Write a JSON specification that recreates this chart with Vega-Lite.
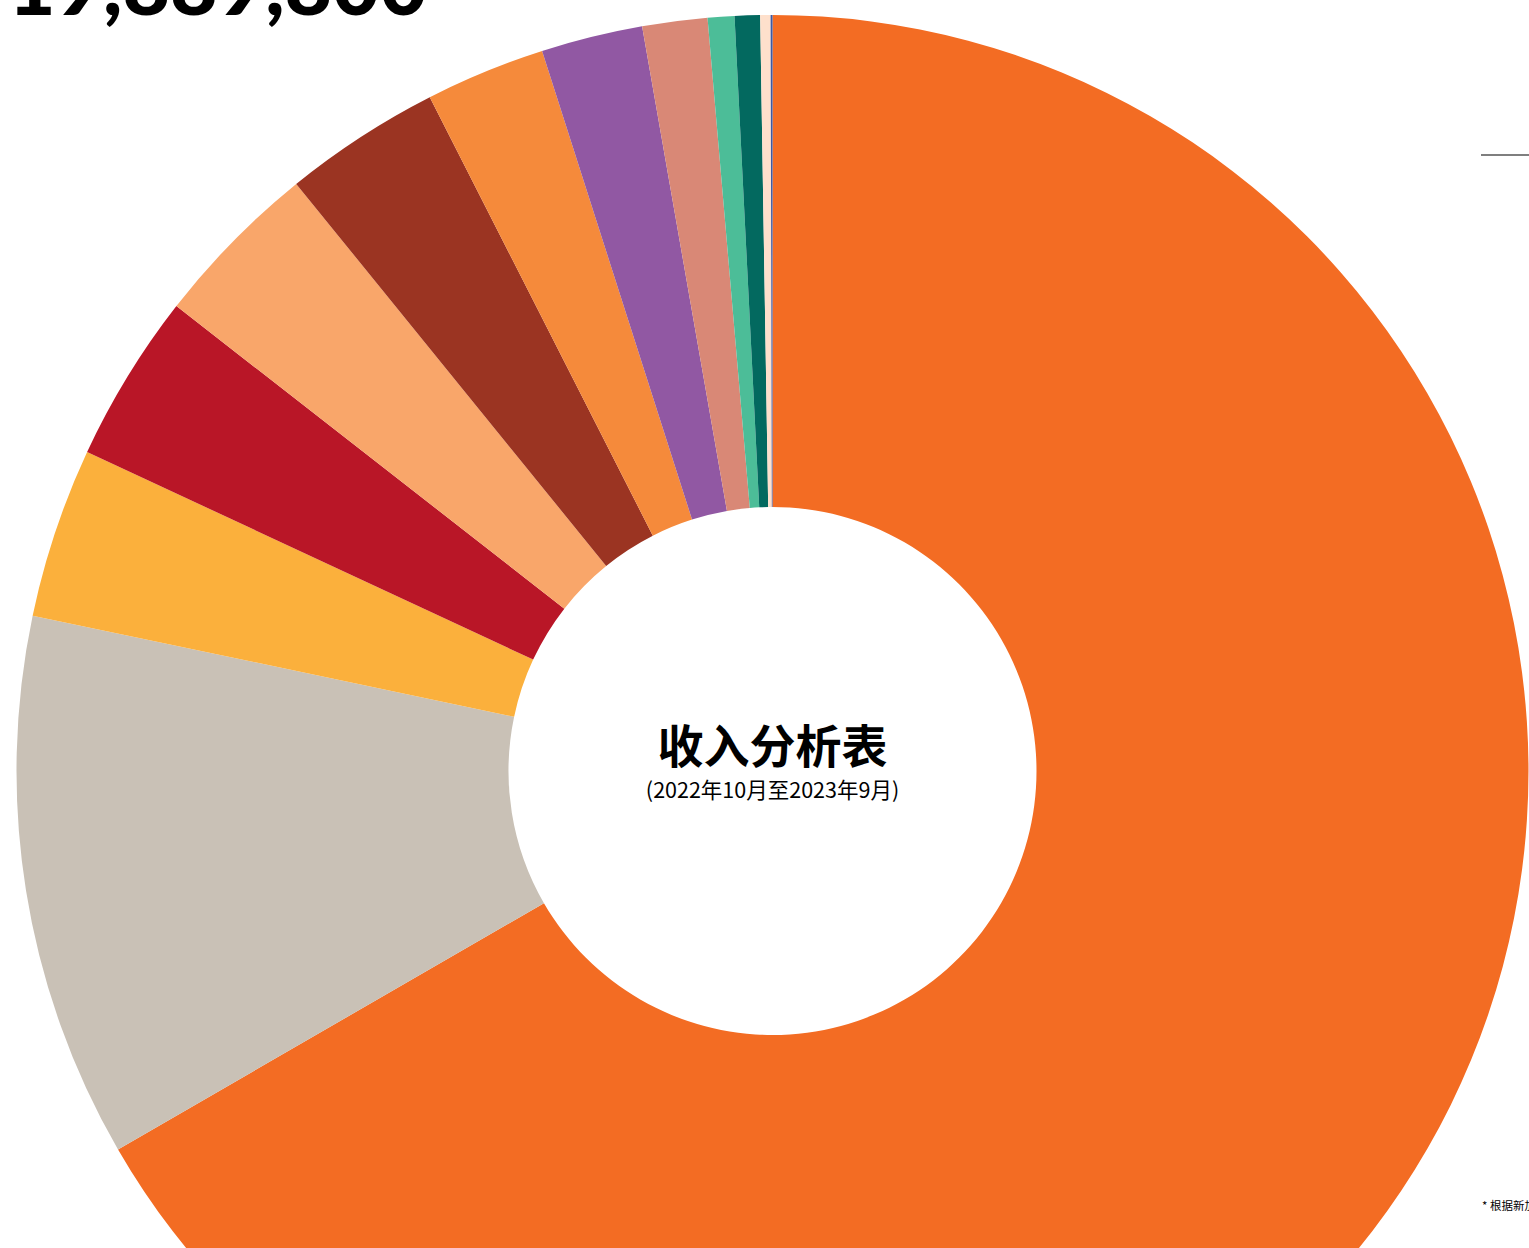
{
  "$schema": "https://vega.github.io/schema/vega-lite/v6.json",
  "width": 1545,
  "height": 1542,
  "autosize": {"type": "none"},
  "padding": 0,
  "background": "white",
  "config": {"view": {"stroke": null}},
  "datasets": {
    "income": [
      {"category": "政府拨款", "share": 66.67},
      {"category": "课程收入", "share": 11.64},
      {"category": "捐款", "share": 3.64},
      {"category": "活动收入", "share": 3.61},
      {"category": "会员费", "share": 3.61},
      {"category": "租金收入", "share": 3.36},
      {"category": "服务收入", "share": 2.56},
      {"category": "赞助", "share": 2.17},
      {"category": "利息收入", "share": 1.39},
      {"category": "销售收入", "share": 0.57},
      {"category": "基金收入", "share": 0.54},
      {"category": "其他收入", "share": 0.22},
      {"category": "杂项收入", "share": 0.04}
    ],
    "center": [
      {"line": "title", "label": "收入分析表"},
      {"line": "sub", "label": "(2022年10月至2023年9月)"}
    ],
    "notes": [
      {"note": "* 根据新加坡", "total": "19,889,800"}
    ]
  },
  "layer": [
    {
      "data": {"name": "income"},
      "mark": {"type": "arc", "innerRadius": 264, "outerRadius": 756},
      "encoding": {
        "theta": {"field": "share", "type": "quantitative", "stack": true},
        "order": {"field": "index", "type": "quantitative"},
        "color": {
          "field": "category",
          "type": "nominal",
          "legend": null,
          "scale": {
            "domain": ["政府拨款", "课程收入", "捐款", "活动收入", "会员费", "租金收入", "服务收入", "赞助", "利息收入", "销售收入", "基金收入", "其他收入", "杂项收入"],
            "range": ["#F36C23", "#C9C1B6", "#FBB03C", "#B91627", "#F9A66A", "#9B3422", "#F58A3B", "#9158A3", "#D98876", "#4CBD98", "#03695F", "#FEE0CC", "#3C5AA6"]
          }
        }
      },
      "transform": [{"window": [{"op": "row_number", "as": "index"}]}]
    },
    {
      "data": {"name": "center"},
      "transform": [{"filter": "datum.line === 'title'"}],
      "mark": {"type": "text", "font": "Noto Sans CJK SC", "fontWeight": "bold", "fontSize": 46, "baseline": "middle", "align": "center", "dy": -22, "color": "#000000"},
      "encoding": {"text": {"field": "label", "type": "nominal"}}
    },
    {
      "data": {"name": "center"},
      "transform": [{"filter": "datum.line === 'sub'"}],
      "mark": {"type": "text", "font": "Noto Sans CJK SC", "fontSize": 21.5, "baseline": "middle", "align": "center", "dy": 21, "color": "#000000"},
      "encoding": {"text": {"field": "label", "type": "nominal"}}
    },
    {
      "data": {"name": "notes"},
      "mark": {"type": "text", "font": "Lato", "fontWeight": 900, "fontSize": 82, "baseline": "alphabetic", "align": "left", "color": "#000000"},
      "encoding": {
        "text": {"field": "total", "type": "nominal"},
        "x": {"value": 8},
        "y": {"value": 15}
      }
    },
    {
      "data": {"name": "notes"},
      "mark": {"type": "text", "font": "Noto Sans CJK SC", "fontSize": 11.5, "baseline": "middle", "align": "left", "color": "#000000"},
      "encoding": {
        "text": {"field": "note", "type": "nominal"},
        "x": {"value": 1482},
        "y": {"value": 1207}
      }
    },
    {
      "data": {"name": "notes"},
      "mark": {"type": "rule", "color": "#555555", "strokeWidth": 1.3},
      "encoding": {
        "x": {"value": 1481},
        "x2": {"value": 1545},
        "y": {"value": 155}
      }
    }
  ]
}
